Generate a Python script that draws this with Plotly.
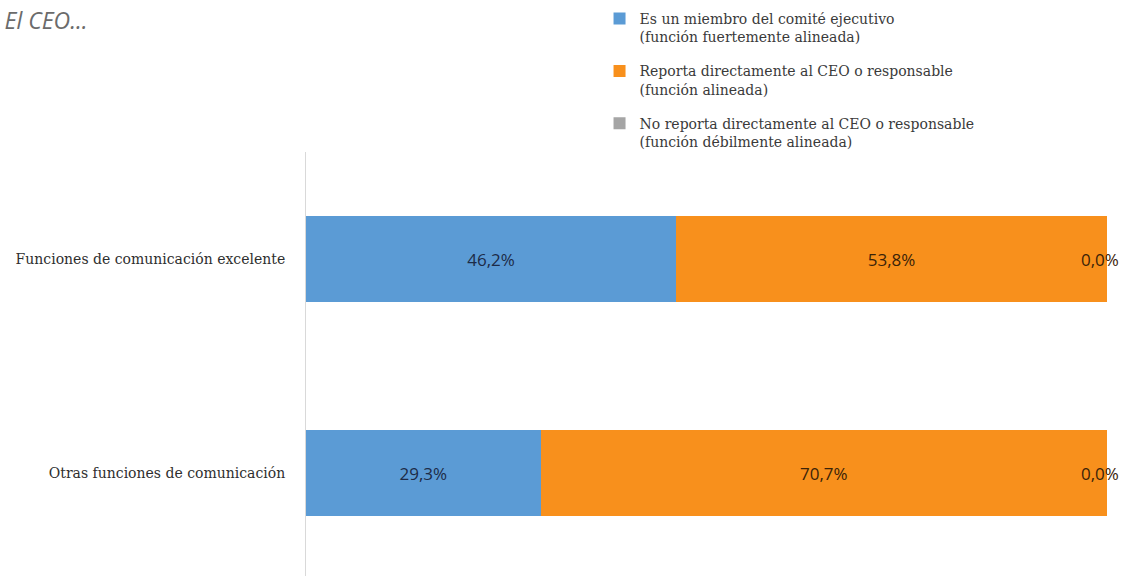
import plotly.graph_objects as go

# Categories (bottom to top) and the share of each reporting line
categories = ["Otras funciones de comunicación", "Funciones de comunicación excelente"]
miembro_comite = [29.3, 46.2]
reporta_directo = [70.7, 53.8]
no_reporta = [0.0, 0.0]

series_names = [
    "Es un miembro del comité ejecutivo<br>(función fuertemente alineada)",
    "Reporta directamente al CEO o responsable<br>(función alineada)",
    "No reporta directamente al CEO o responsable<br>(función débilmente alineada)",
]

blue = "#5b9bd5"
orange = "#f8901c"
gray = "#a5a5a5"

fig = go.Figure()

fig.add_trace(go.Bar(
    y=categories, x=miembro_comite, orientation="h", name=series_names[0],
    marker=dict(color=blue, line=dict(width=0)), legendgroup="a",
    texttemplate="%{x:.1f}%", textposition="inside", insidetextanchor="middle",
    insidetextfont=dict(family="Open Sans", size=17, color="#1d2b47"),
))
fig.add_trace(go.Bar(
    y=categories, x=reporta_directo, orientation="h", name=series_names[1],
    marker=dict(color=orange, line=dict(width=0)), legendgroup="b",
    texttemplate="%{x:.1f}%", textposition="inside", insidetextanchor="middle",
    insidetextfont=dict(family="Open Sans", size=17, color="#3b2308"),
))
fig.add_trace(go.Bar(
    y=categories, x=no_reporta, orientation="h", name=series_names[2],
    marker=dict(color=gray, line=dict(width=0)), legendgroup="c",
    textposition="none",
))

# Labels for the zero-width gray segment, at the end of each stacked bar
totals = [a + b + c for a, b, c in zip(miembro_comite, reporta_directo, no_reporta)]
for cat, tot, val in zip(categories, totals, no_reporta):
    fig.add_annotation(
        x=tot, y=cat, xref="x", yref="y", showarrow=False,
        text=f"{val:.1f}%".replace(".", ","), xanchor="center", xshift=-7,
        font=dict(family="Open Sans", size=17, color="#3b2308"),
    )

fig.update_layout(
    width=1128, height=576,
    barmode="stack", bargap=0.6,
    separators=",.",
    plot_bgcolor="white", paper_bgcolor="white",
    margin=dict(l=306, r=21, t=152, b=0, autoexpand=False),
    title=dict(
        text="<i>El CEO...</i>", xref="container", yref="container",
        x=0.004, xanchor="left", y=0.963, yanchor="middle",
        font=dict(family="Open Sans", size=23, color="#6b6b6b"),
    ),
    legend=dict(
        xref="container", yref="container", x=0.5315, y=0.995,
        xanchor="left", yanchor="top",
        font=dict(family="DejaVu Serif", size=14, color="#3a3a3a"),
        traceorder="grouped", tracegroupgap=13, valign="top",
        itemwidth=30, bgcolor="rgba(0,0,0,0)",
    ),
    xaxis=dict(range=[0, 100], showgrid=False, zeroline=False,
               showticklabels=False, showline=False, fixedrange=True),
    yaxis=dict(
        categoryorder="array", categoryarray=categories,
        range=[-0.481, 1.5], showgrid=False, zeroline=False,
        showline=True, linecolor="#d9d9d9", linewidth=1,
        ticks="", ticklabelstandoff=17,
        tickfont=dict(family="DejaVu Serif", size=14, color="#2e2e2e"),
    ),
)

fig.write_html("out.html")
